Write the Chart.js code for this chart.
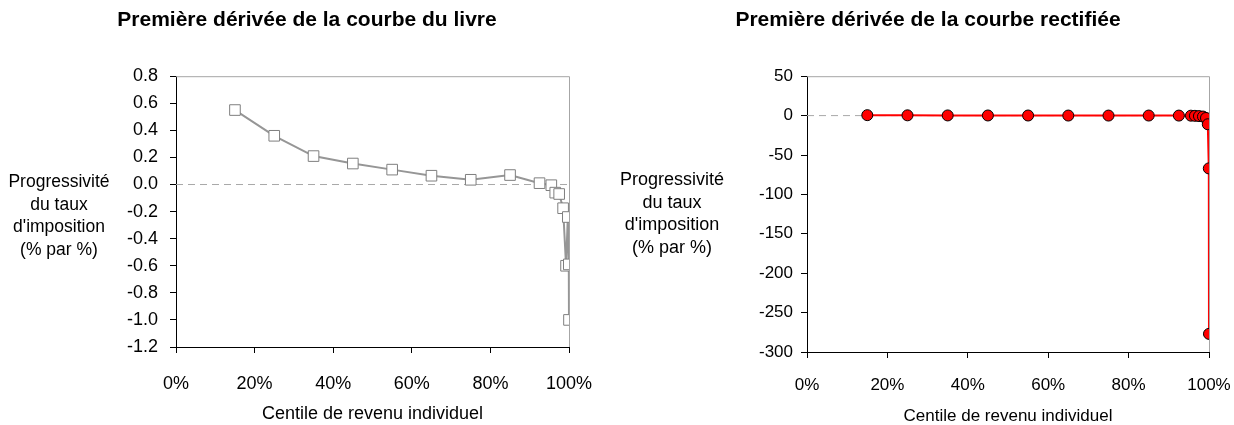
<!DOCTYPE html>
<html lang="fr">
<head>
  <meta charset="UTF-8">
  <title>Première dérivée - courbe du livre / courbe rectifiée</title>
  <script src="https://cdn.jsdelivr.net/npm/chart.js"></script>
  <style>
    html, body {
      margin: 0;
      background: #fff;
      overflow: hidden;
      font-family: 'Liberation Sans', Arial, sans-serif;
    }
    #wrap { position: relative; width: 1234px; height: 425px; }
    canvas { position: absolute; top: 0; }
    #c1 { left: 0; }
    #c2 { left: 620px; }
    .ylab {
      position: absolute;
      width: 130px;
      text-align: center;
      font-size: 17.5px;
      line-height: 22.5px;
      color: #000;
    }
  </style>
</head>
<body>
  <div id="wrap">
    <canvas id="c1" width="614" height="425"></canvas>
    <canvas id="c2" width="614" height="425"></canvas>
    <div class="ylab" style="left:-6px; top:170px;">Progressivité<br>du taux<br>d'imposition<br>(% par %)</div>
    <div class="ylab" style="left:607px; top:168px; font-size:18px;">Progressivité<br>du taux<br>d'imposition<br>(% par %)</div>
  </div>

  <script>
    // centiles de revenu (milieu de chaque tranche)
    const centiles = [15, 25, 35, 45, 55, 65, 75, 85, 92.5, 95.5, 96.5, 97.5, 98.5, 99.25, 99.7, 99.95, 99.995];
    // courbe du livre
    const livre = [0.55, 0.36, 0.21, 0.155, 0.11, 0.065, 0.035, 0.07, 0.01, -0.005, -0.06, -0.07, -0.175, -0.6, -0.24, -0.59, -1.0];
    // courbe rectifiée
    const rectifiee = [0.55, 0.36, 0.21, 0.155, 0.11, 0.065, 0.035, 0.07, 0.01, -0.1, -0.3, -0.6, -1.2, -3, -11, -67, -277];
    const zeroX = [0, 100];
    const zeroY = [0, 0];

    const xTicksLabel = v => v + '%';

    Chart.defaults.font.family = "'Liberation Sans', Arial, sans-serif";
    Chart.defaults.color = '#000';

    // cadre gris en haut et à droite de la zone de tracé
    const frame = {
      id: 'frame',
      beforeDatasetsDraw(chart) {
        const a = chart.chartArea, ctx = chart.ctx;
        ctx.save();
        ctx.strokeStyle = '#a6a6a6';
        ctx.lineWidth = 1;
        ctx.beginPath();
        ctx.moveTo(a.left, a.top + 0.5);
        ctx.lineTo(a.right + 0.5, a.top + 0.5);
        ctx.lineTo(a.right + 0.5, a.bottom);
        ctx.stroke();
        ctx.restore();
      }
    };

    function pts(xs, ys) {
      return xs.map((x, i) => ({ x: x, y: ys[i] }));
    }

    function makeChart(id, o) {
      return new Chart(document.getElementById(id), {
        type: 'line',
        data: {
          datasets: [
            {
              data: pts(centiles, o.values),
              borderColor: o.line,
              borderWidth: 2,
              pointStyle: o.pointStyle,
              pointRadius: o.radius,
              pointBackgroundColor: o.fill,
              pointBorderColor: o.pointBorder,
              pointBorderWidth: 1,
              order: 1
            },
            {
              data: pts(zeroX, zeroY),
              borderColor: '#a8a8a8',
              borderWidth: 1,
              borderDash: [7, 5],
              pointRadius: 0,
              order: 2
            }
          ]
        },
        options: {
          responsive: false,
          devicePixelRatio: 1,
          animation: false,
          events: [],
          layout: { padding: { left: o.padLeft, right: o.padRight, top: 0, bottom: 0 } },
          plugins: {
            legend: { display: false },
            tooltip: { enabled: false },
            title: {
              display: true,
              text: o.title,
              font: { size: 21, weight: 'bold' },
              padding: { top: 8, bottom: o.titleGap }
            }
          },
          scales: {
            x: {
              type: 'linear',
              min: 0, max: 100,
              afterFit: s => { s.height = o.xHeight; s.paddingLeft = 0; s.paddingRight = 0; },
              grid: { display: true, drawOnChartArea: false, drawTicks: true, tickLength: 6, color: '#000' },
              border: { color: '#000', width: 1 },
              ticks: { stepSize: 20, callback: xTicksLabel, font: { size: o.fs }, padding: o.xPad, maxRotation: 0 },
              title: { display: true, text: 'Centile de revenu individuel', font: { size: o.fs, lineHeight: o.titleLH }, padding: { top: 0, bottom: 0 } }
            },
            y: {
              min: o.ymin, max: o.ymax,
              afterFit: s => { s.width = o.yWidth; },
              grid: { display: true, drawOnChartArea: false, drawTicks: true, tickLength: 6, color: '#000' },
              border: { color: '#000', width: 1 },
              ticks: { stepSize: o.ystep, callback: o.yfmt, font: { size: o.fs }, padding: o.yPad }
            }
          }
        },
        plugins: [frame]
      });
    }

    makeChart('c1', {
      title: 'Première dérivée de la courbe du livre',
      values: livre,
      line: '#969696', pointStyle: 'rect', radius: 7.5, fill: '#fff', pointBorder: '#7f7f7f',
      ymin: -1.2, ymax: 0.8, ystep: 0.2,
      yfmt: v => (Math.round(v * 10) / 10 + 0).toFixed(1),
      fs: 18, padLeft: 45, padRight: 45, yWidth: 131, xHeight: 78, xPad: 20, yPad: 12, titleGap: 43, titleLH: 1.2
    });

    makeChart('c2', {
      title: 'Première dérivée de la courbe rectifiée',
      values: rectifiee,
      line: '#ff0000', pointStyle: 'circle', radius: 5.5, fill: '#ff0000', pointBorder: '#000',
      ymin: -300, ymax: 50, ystep: 50,
      yfmt: v => String(v),
      fs: 17, padLeft: 27, padRight: 25, yWidth: 160, xHeight: 73, xPad: 17, yPad: 8, titleGap: 43, titleLH: 1.0
    });
  </script>
</body>
</html>
